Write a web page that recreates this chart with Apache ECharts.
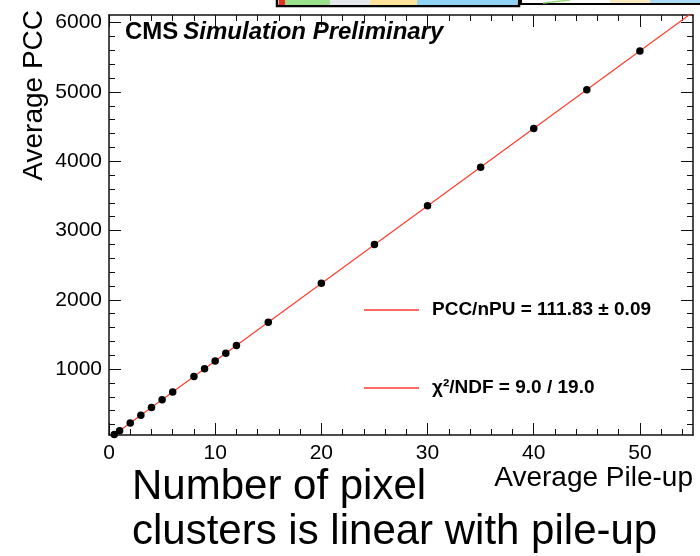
<!DOCTYPE html>
<html>
<head>
<meta charset="utf-8">
<script src="https://cdn.jsdelivr.net/npm/echarts@6/dist/echarts.min.js"></script>
<style>
  html, body { margin: 0; padding: 0; background: #fff; }
  #main { width: 700px; height: 556px; }
</style>
</head>
<body>
<div id="main"></div>
<script>
// average pile-up (x) and average pixel cluster count (y)
const puValues = [0.5, 1, 2, 3, 4, 5, 6, 8, 9, 10, 11, 12, 15, 20, 25, 30, 35, 40, 45, 50]
const pccValues = [56, 113, 224, 336, 447, 559, 672, 895, 1006, 1119, 1230, 1342, 1677, 2240, 2797, 3357, 3914, 4472, 5030, 5590]

// linear fit through origin, slope 111.83
const fitLine = [[0, 0], [55, 6151]]
const fitName = 'PCC/nPU = 111.83 ± 0.09'
const chiName = 'χ²/NDF = 9.0 / 19.0'

const xMajorTicks = [0, 10, 20, 30, 40, 50]
const xMinorTicks = [2, 4, 6, 8, 12, 14, 16, 18, 22, 24, 26, 28, 32, 34, 36, 38, 42, 44, 46, 48, 52, 54]
const yMajorTicks = [1000, 2000, 3000, 4000, 5000, 6000]
const yMinorTicks = [200, 400, 600, 800, 1200, 1400, 1600, 1800, 2200, 2400, 2600, 2800, 3200, 3400, 3600, 3800,
  4200, 4400, 4600, 4800, 5200, 5400, 5600, 5800]

const FONT = 'Liberation Sans, Arial, Helvetica, sans-serif'
const RED = '#ff3a2a'

function xAxisPart(position, ticks, len, labels, line) {
  return {
    type: 'value',
    position: position,
    min: 0,
    max: 55,
    axisLine: { show: line, onZero: false, lineStyle: { color: '#111', width: 1.5 } },
    axisTick: { show: true, inside: true, length: len, customValues: ticks, lineStyle: { color: '#111', width: 1 } },
    axisLabel: {
      show: labels,
      customValues: ticks,
      margin: 8,
      fontFamily: FONT,
      fontSize: 21,
      color: '#000',
      formatter: (v) => String(v)
    },
    splitLine: { show: false }
  }
}

function yAxisPart(position, ticks, len, labels, line) {
  return {
    type: 'value',
    position: position,
    min: 50,
    max: 6110,
    axisLine: { show: line, onZero: false, lineStyle: { color: '#111', width: 1.5 } },
    axisTick: { show: true, inside: true, length: len, customValues: ticks, lineStyle: { color: '#111', width: 1 } },
    axisLabel: {
      show: labels,
      customValues: ticks,
      margin: 7,
      fontFamily: FONT,
      fontSize: 21,
      color: '#000',
      formatter: (v) => String(v)
    },
    splitLine: { show: false }
  }
}

const xMain = xAxisPart('bottom', xMajorTicks, 12, true, true)
xMain.name = 'Average Pile-up'
xMain.nameLocation = 'end'
xMain.nameGap = 0
xMain.nameMoveOverlap = false
xMain.nameTextStyle = {
  fontFamily: FONT, fontSize: 28, color: '#000',
  align: 'right', verticalAlign: 'top', padding: [29, 0, 0, 0]
}

const yMain = yAxisPart('left', yMajorTicks, 12, true, true)
yMain.name = 'Average PCC'
yMain.nameLocation = 'end'
yMain.nameRotate = 90
yMain.nameGap = 5
yMain.nameMoveOverlap = false
yMain.nameTextStyle = {
  fontFamily: FONT, fontSize: 28, color: '#000',
  align: 'right', verticalAlign: 'bottom', padding: [0, 0, 61, 0]
}

const option = {
  animation: false,
  backgroundColor: '#fff',
  grid: { left: 109, right: 7, top: 15, bottom: 121, containLabel: false, outerBoundsMode: 'none' },
  title: {
    text: '{a|CMS} {b|Simulation Preliminary}',
    left: 125,
    top: 20,
    padding: 0,
    textStyle: {
      rich: {
        a: { fontFamily: FONT, fontSize: 24, fontWeight: 'bold', color: '#000' },
        b: { fontFamily: FONT, fontSize: 24, fontWeight: 'bold', fontStyle: 'italic', color: '#000' }
      }
    }
  },
  legend: {
    orient: 'vertical',
    left: 364,
    top: 299,
    padding: 0,
    icon: 'rect',
    itemWidth: 55,
    itemHeight: 1.5,
    itemGap: 56,
    data: [fitName, chiName],
    textStyle: {
      fontFamily: FONT, fontSize: 19, fontWeight: 'bold', color: '#000',
      lineHeight: 22, padding: [0, 0, 0, 8]
    }
  },
  xAxis: [
    xMain,
    xAxisPart('bottom', xMinorTicks, 6, false, false),
    xAxisPart('top', xMajorTicks, 12, false, true),
    xAxisPart('top', xMinorTicks, 6, false, false)
  ],
  yAxis: [
    yMain,
    yAxisPart('left', yMinorTicks, 6, false, false),
    yAxisPart('right', yMajorTicks, 12, false, true),
    yAxisPart('right', yMinorTicks, 6, false, false)
  ],
  series: [
    {
      name: fitName,
      type: 'line',
      data: fitLine,
      showSymbol: false,
      clip: true,
      color: RED,
      itemStyle: { color: RED },
      lineStyle: { color: RED, width: 1.2 },
      z: 2
    },
    {
      name: chiName,
      type: 'line',
      data: [],
      color: RED,
      itemStyle: { color: RED },
      lineStyle: { color: RED, width: 1.2 }
    },
    {
      name: 'MC',
      type: 'scatter',
      data: puValues.map((x, i) => [x, pccValues[i]]),
      symbolSize: 7.5,
      itemStyle: { color: '#000', opacity: 1 },
      clip: false,
      z: 3
    }
  ],
  graphic: [
    // fragments of the slide above the plot
    { type: 'rect', shape: { x: 277, y: -3, width: 242, height: 9 }, style: { fill: '#fff', stroke: '#000', lineWidth: 2.5 } },
    { type: 'rect', shape: { x: 279, y: 0, width: 6, height: 5 }, style: { fill: '#e8321e' } },
    { type: 'rect', shape: { x: 285, y: 0, width: 45, height: 5 }, style: { fill: '#9ae08c' } },
    { type: 'rect', shape: { x: 330, y: 0, width: 40, height: 5 }, style: { fill: '#e5e8ec' } },
    { type: 'rect', shape: { x: 370, y: 0, width: 47, height: 5 }, style: { fill: '#fde39c' } },
    { type: 'rect', shape: { x: 417, y: 0, width: 100, height: 5 }, style: { fill: '#8fd4f6' } },
    { type: 'rect', shape: { x: 521, y: -3, width: 185, height: 7 }, style: { fill: '#fff', stroke: '#000', lineWidth: 2 } },
    { type: 'rect', shape: { x: 610, y: 0, width: 40, height: 3 }, style: { fill: '#fdebc0' } },
    { type: 'rect', shape: { x: 650, y: 0, width: 50, height: 3 }, style: { fill: '#a9daf6' } },
    { type: 'line', shape: { x1: 543, y1: 3, x2: 570, y2: 0 }, style: { stroke: '#9ddc7a', lineWidth: 1.5 } },
    // slide caption below the plot
    {
      type: 'text', left: 132, top: 466,
      style: { text: 'Number of pixel', fontFamily: FONT, fontSize: 42, fill: '#000' }
    },
    {
      type: 'text', left: 132, top: 511,
      style: { text: 'clusters is linear with pile-up', fontFamily: FONT, fontSize: 42, fill: '#000' }
    }
  ]
}

const chart = echarts.init(document.getElementById('main'))
chart.setOption(option)
</script>
</body>
</html>
